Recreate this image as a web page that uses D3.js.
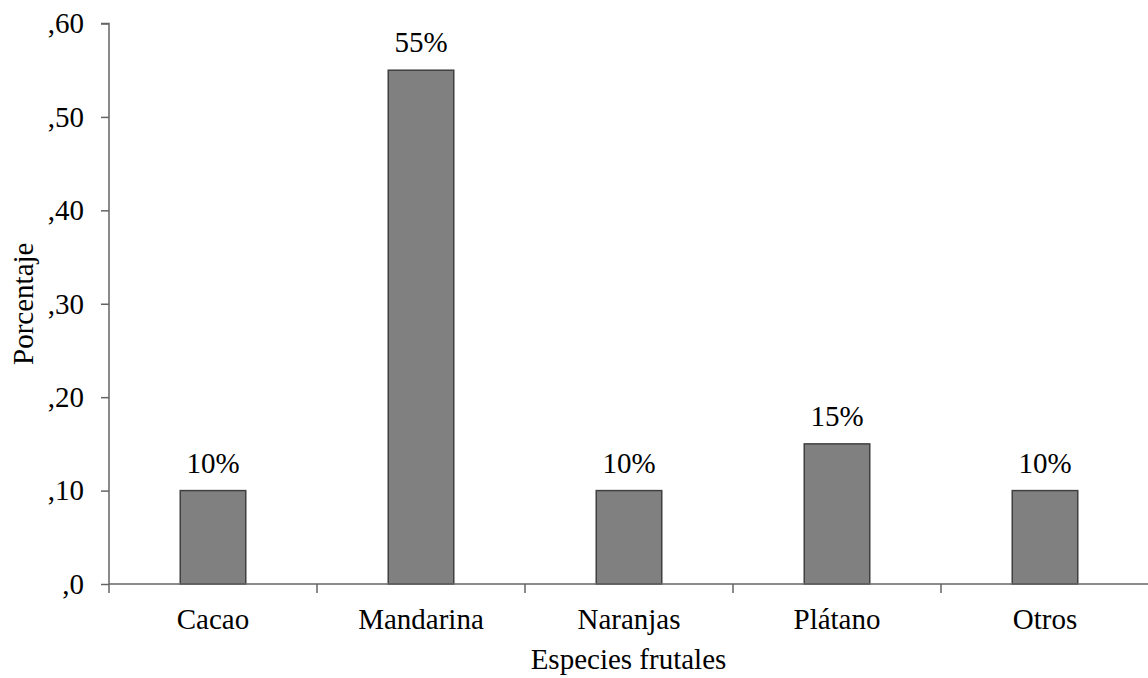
<!DOCTYPE html>
<html>
<head>
<meta charset="utf-8">
<script src="https://cdn.jsdelivr.net/npm/d3@7"></script>
<style>
  html, body { margin: 0; padding: 0; background: #fff; }
  svg { display: block; }
  text { font-family: "Liberation Serif", "Times New Roman", serif; fill: #000; }
</style>
</head>
<body>
<svg id="chart" width="1148" height="678"></svg>
<script>
// Especies frutales cultivadas (proporción)
const categories = ["Cacao", "Mandarina", "Naranjas", "Plátano", "Otros"];
const values = [0.10, 0.55, 0.10, 0.15, 0.10];
const valueLabels = ["10%", "55%", "10%", "15%", "10%"];
const yTicks = [0, 0.1, 0.2, 0.3, 0.4, 0.5, 0.6];
const yTickLabels = [",0", ",10", ",20", ",30", ",40", ",50", ",60"];

const svg = d3.select("#chart");
const margin = { left: 109, right: -1, top: 23.5, bottom: 94 };
const W = 1148, H = 678;
const fontSize = 29;
const axisColor = "#646464";

const x = d3.scaleBand()
  .domain(categories)
  .range([margin.left, W - margin.right])
  .paddingInner(0)
  .paddingOuter(0);

const y = d3.scaleLinear()
  .domain([0, 0.6])
  .range([H - margin.bottom, margin.top]);

const barW = x.bandwidth() * 0.315;

// bars
svg.append("g").selectAll("rect")
  .data(values)
  .join("rect")
  .attr("x", (d, i) => x(categories[i]) + x.bandwidth() / 2 - barW / 2)
  .attr("y", d => y(d))
  .attr("width", barW)
  .attr("height", d => y(0) - y(d))
  .attr("fill", "#808080")
  .attr("stroke", "#404040")
  .attr("stroke-width", 1.5);

// value labels
svg.append("g").selectAll("text")
  .data(values)
  .join("text")
  .attr("x", (d, i) => x(categories[i]) + x.bandwidth() / 2)
  .attr("y", d => y(d) - 18)
  .attr("text-anchor", "middle")
  .style("font-size", fontSize + "px")
  .text((d, i) => valueLabels[i]);

// y axis
const yAxis = d3.axisLeft(y)
  .tickValues(yTicks)
  .tickFormat((d, i) => yTickLabels[i])
  .tickSize(8)
  .tickPadding(17);
const gy = svg.append("g")
  .attr("transform", `translate(${margin.left},0)`)
  .call(yAxis);
gy.select(".domain").attr("stroke", axisColor).attr("stroke-width", 1.5)
  .attr("d", `M-8,${y(0.6)}H0V${y(0)}`);
gy.selectAll(".tick line").attr("stroke", axisColor).attr("stroke-width", 1.5);
gy.selectAll(".tick text")
  .style("font-size", fontSize + "px")
  .style("font-family", "Liberation Serif, Times New Roman, serif")
  .attr("fill", "#000");

// x axis
const gx = svg.append("g")
  .attr("transform", `translate(0,${y(0)})`);
gx.append("line")
  .attr("x1", margin.left).attr("x2", W)
  .attr("y1", 0).attr("y2", 0)
  .attr("stroke", axisColor).attr("stroke-width", 1.5);
const boundaries = categories.map(c => x(c));
gx.selectAll("line.sep")
  .data(boundaries)
  .join("line")
  .attr("class", "sep")
  .attr("x1", d => d).attr("x2", d => d)
  .attr("y1", 0).attr("y2", 9)
  .attr("stroke", axisColor).attr("stroke-width", 1.5);
gx.selectAll("text.cat")
  .data(categories)
  .join("text")
  .attr("class", "cat")
  .attr("x", d => x(d) + x.bandwidth() / 2)
  .attr("y", 45)
  .attr("text-anchor", "middle")
  .style("font-size", fontSize + "px")
  .text(d => d);

// axis titles
svg.append("text")
  .attr("x", (margin.left + W) / 2)
  .attr("y", 669)
  .attr("text-anchor", "middle")
  .style("font-size", fontSize + "px")
  .text("Especies frutales");

svg.append("text")
  .attr("transform", `translate(33,${(y(0) + y(0.6)) / 2}) rotate(-90)`)
  .attr("text-anchor", "middle")
  .style("font-size", fontSize + "px")
  .text("Porcentaje");
</script>
</body>
</html>
